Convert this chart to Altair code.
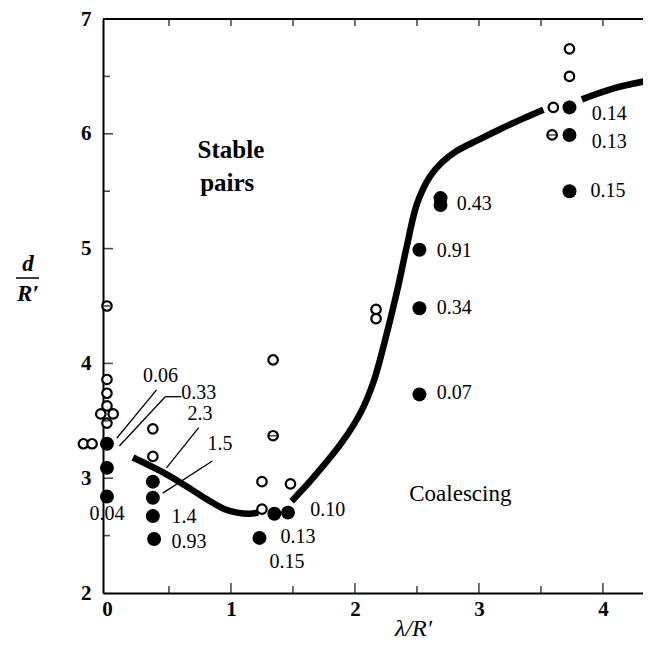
import altair as alt
import pandas as pd

# ---------------- data ----------------
open_x = [0, 0, 0, 0, -0.05, 0.05, 0, -0.19, -0.12, 0.37, 0.37, 1.34, 1.34, 1.25, 1.48, 1.25,
          2.17, 2.17, 3.73, 3.73, 3.60, 3.59]
open_y = [4.50, 3.86, 3.74, 3.63, 3.56, 3.56, 3.48, 3.30, 3.30, 3.43, 3.19, 4.03, 3.37, 2.97, 2.95, 2.73,
          4.47, 4.39, 6.74, 6.50, 6.23, 5.99]

barred_x = [1.34, 3.59]
barred_y = [3.37, 5.99]

filled_x = [0, 0, 0, 0.37, 0.37, 0.37, 0.38, 1.35, 1.46, 1.23, 2.52, 2.52, 2.52, 2.69, 2.69,
            3.73, 3.73, 3.73]
filled_y = [3.30, 3.09, 2.84, 2.97, 2.83, 2.67, 2.47, 2.69, 2.70, 2.48, 4.99, 4.48, 3.73, 5.44, 5.38,
            6.23, 5.99, 5.50]

curve_seg = [1] * 8 + [2] * 16 + [3] * 3
curve_x = [0.21, 0.47, 0.64, 0.80, 0.95, 1.05, 1.15, 1.22,
           1.49, 1.66, 1.90, 2.05, 2.15, 2.24, 2.34, 2.42, 2.50, 2.60, 2.70, 2.82, 3.00, 3.17, 3.35, 3.52,
           3.83, 4.10, 4.40]
curve_y = [3.18, 3.04, 2.93, 2.82, 2.73, 2.70, 2.69, 2.70,
           2.80, 3.00, 3.32, 3.58, 3.84, 4.19, 4.63, 5.03, 5.39, 5.62, 5.75, 5.85, 5.95, 6.04, 6.13, 6.21,
           6.30, 6.40, 6.47]

lab_text = ["0.14", "0.13", "0.15", "0.43", "0.91", "0.34", "0.07", "0.10", "0.13", "0.15",
            "0.06", "0.33", "2.3", "1.5", "1.4", "0.93", "0.04"]
lab_x = [3.91, 3.91, 3.90, 2.82, 2.66, 2.66, 2.66, 1.64, 1.40, 1.31,
         0.29, 0.60, 0.65, 0.81, 0.52, 0.52, -0.14]
lab_y = [6.17, 5.93, 5.50, 5.39, 4.98, 4.48, 3.74, 2.72, 2.49, 2.27,
         3.89, 3.74, 3.56, 3.30, 2.66, 2.44, 2.69]

lead_x = [0.40, 0.60, 0.47, 0.74, 0.85]
lead_y = [3.77, 3.71, 3.71, 3.44, 3.15]
lead_x2 = [0.08, 0.47, 0.10, 0.48, 0.45]
lead_y2 = [3.35, 3.71, 3.28, 3.09, 2.87]

region_text = ["Stable", "pairs", "Coalescing"]
region_x = [1.00, 0.97, 2.85]
region_y = [5.86, 5.57, 2.86]
region_weight = ["bold", "bold", "normal"]

x_ticks_major = [1, 2, 3, 4]
x_ticks_minor = [0.5, 1.5, 2.5, 3.5]
y_ticks_major = [3, 4, 5, 6]
y_ticks_minor = [2.5, 3.5, 4.5, 5.5, 6.5]
top_ticks = [0.5, 1.0, 1.5, 2.0, 2.5, 3.0, 3.5, 4.0]
x_labels = [0, 1, 2, 3, 4]
y_labels = [2, 3, 4, 5, 6, 7]

# ---------------- chart ----------------
W, H = 540, 574
FONT = "Liberation Serif"

xs = alt.Scale(domain=[-0.032, 4.323], nice=False, zero=False)
ys = alt.Scale(domain=[2, 7], nice=False, zero=False)

xaxis = alt.Axis(values=x_labels, tickSize=0, grid=False, format="d", labelFlush=False,
                 labelFont=FONT, labelFontSize=21, labelFontWeight="bold", labelColor="black",
                 labelPadding=5, domainColor="black", domainWidth=2,
                 title="λ/R′", titleFont=FONT, titleFontStyle="italic", titleFontWeight="normal",
                 titleFontSize=24, titleColor="black", titleX=310, titleY=35,
                 titleBaseline="middle", titleAlign="center")
yaxis = alt.Axis(values=y_labels, tickSize=0, grid=False, format="d", labelFlush=False,
                 labelFont=FONT, labelFontSize=21, labelFontWeight="bold", labelColor="black",
                 labelPadding=12, domainColor="black", domainWidth=2, title=None)


def X(f="x"):
    return alt.X(f"{f}:Q", scale=xs, axis=xaxis, title="λ/R′")


def Y(f="y"):
    return alt.Y(f"{f}:Q", scale=ys, axis=yaxis, title=None)


df_curve = pd.DataFrame({"x": curve_x, "y": curve_y, "seg": curve_seg})
df_open = pd.DataFrame({"x": open_x, "y": open_y})
df_bar = pd.DataFrame({"x": barred_x, "y": barred_y})
df_fill = pd.DataFrame({"x": filled_x, "y": filled_y})
df_lab = pd.DataFrame({"x": lab_x, "y": lab_y, "t": lab_text})
df_lead = pd.DataFrame({"x": lead_x, "y": lead_y, "x2": lead_x2, "y2": lead_y2})
df_reg = pd.DataFrame({"x": region_x, "y": region_y, "t": region_text, "w": region_weight})
df_xmaj = pd.DataFrame({"x": x_ticks_major})
df_xmin = pd.DataFrame({"x": x_ticks_minor})
df_ymaj = pd.DataFrame({"y": y_ticks_major})
df_ymin = pd.DataFrame({"y": y_ticks_minor})
df_top = pd.DataFrame({"x": top_ticks})
one = pd.DataFrame({"a": [0]})

curve = alt.Chart(df_curve).mark_line(interpolate="catmull-rom", strokeWidth=6.5, color="black",
                                      clip=True, strokeCap="butt").encode(
    x=X(), y=Y(), detail="seg:N")

leaders = alt.Chart(df_lead).mark_rule(color="black", strokeWidth=1.3).encode(
    x=X(), y=Y(), x2="x2:Q", y2="y2:Q")

opens = alt.Chart(df_open).mark_point(shape="circle", filled=False, size=90, strokeWidth=2.2,
                                      color="black", fill="white", fillOpacity=1, opacity=1).encode(
    x=X(), y=Y())

bars = alt.Chart(df_bar).mark_tick(orient="horizontal", size=10, thickness=1.6, color="black").encode(
    x=X(), y=Y())

fills = alt.Chart(df_fill).mark_circle(size=195, color="black", opacity=1).encode(x=X(), y=Y())

labels = alt.Chart(df_lab).mark_text(font=FONT, fontSize=20, align="left", baseline="middle",
                                     color="black").encode(x=X(), y=Y(), text="t:N")

region_bold = alt.Chart(df_reg[df_reg.w == "bold"]).mark_text(
    font=FONT, fontSize=25, fontWeight="bold", align="center", baseline="middle", color="black"
).encode(x=X(), y=Y(), text="t:N")
region_norm = alt.Chart(df_reg[df_reg.w == "normal"]).mark_text(
    font=FONT, fontSize=23, align="center", baseline="middle", color="black"
).encode(x=X(), y=Y(), text="t:N")

xt_maj = alt.Chart(df_xmaj).mark_tick(orient="vertical", size=10, thickness=1.6, color="black").encode(
    x=X(), y=alt.value(H - 5))
xt_min = alt.Chart(df_xmin).mark_tick(orient="vertical", size=7, thickness=1.6, color="black").encode(
    x=X(), y=alt.value(H - 3.5))
top_t = alt.Chart(df_top).mark_tick(orient="vertical", size=7, thickness=1.6, color="black").encode(
    x=X(), y=alt.value(3.5))
yt_maj = alt.Chart(df_ymaj).mark_tick(orient="horizontal", size=10, thickness=1.6, color="black").encode(
    y=Y(), x=alt.value(5))
yt_min = alt.Chart(df_ymin).mark_tick(orient="horizontal", size=7, thickness=1.6, color="black").encode(
    y=Y(), x=alt.value(3.5))

top_line = alt.Chart(one).mark_rule(color="black", strokeWidth=2).encode(
    x=alt.value(0), x2=alt.value(W), y=alt.value(0))

ytitle_d = alt.Chart(one).mark_text(text="d", font=FONT, fontSize=23, fontStyle="italic",
                                    fontWeight="bold", align="center", baseline="middle",
                                    color="black").encode(x=alt.value(-75), y=alt.value(245))
ytitle_r = alt.Chart(one).mark_text(text="R′", font=FONT, fontSize=23, fontStyle="italic",
                                    fontWeight="bold", align="center", baseline="middle",
                                    color="black").encode(x=alt.value(-75), y=alt.value(275))
ytitle_bar = alt.Chart(one).mark_rule(color="black", strokeWidth=1.5).encode(
    x=alt.value(-87), x2=alt.value(-64), y=alt.value(259))

chart = alt.layer(
    curve, leaders, opens, bars, fills, labels, region_bold, region_norm,
    xt_maj, xt_min, top_t, yt_maj, yt_min, top_line, ytitle_d, ytitle_r, ytitle_bar
).properties(
    width=W, height=H,
    padding={"left": 95, "top": 11, "right": 0, "bottom": 53},
    autosize=alt.AutoSizeParams(type="none"),
).configure_view(stroke=None).configure(background="white")

chart.save("out.html", embed_options={"renderer": "svg", "actions": False})
